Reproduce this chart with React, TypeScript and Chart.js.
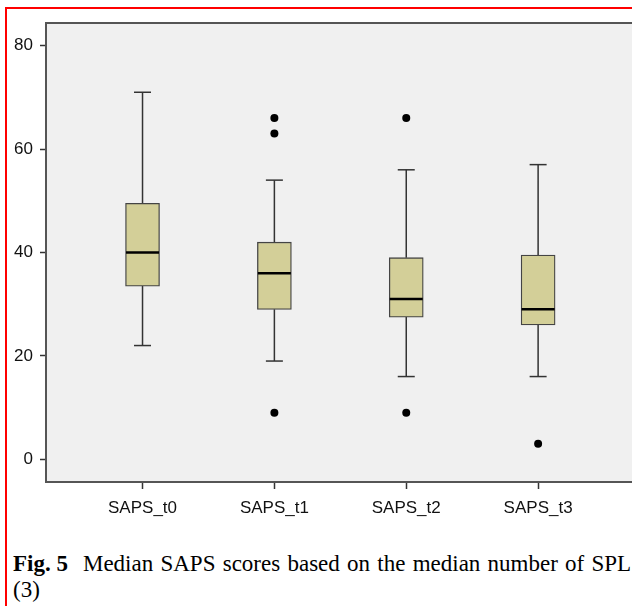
import React, { useEffect, useRef } from "react";
import { Chart, registerables } from "chart.js";

Chart.register(...registerables);

const CATEGORIES = ["SAPS_t0", "SAPS_t1", "SAPS_t2", "SAPS_t3"];
const WHISKER_LOW = [22, 19, 16, 16];
const Q1 = [33.5, 29, 27.5, 26];
const MEDIAN = [40, 36, 31, 29];
const Q3 = [49.5, 42, 39, 39.5];
const WHISKER_HIGH = [71, 54, 56, 57];
const OUTLIERS: number[][] = [[], [66, 63, 9], [66, 9], [3]];
const Y_TICKS = [0, 20, 40, 60, 80];
const Y_MIN = -4.4;
const Y_MAX = 84.4;
const X_MIN = 0.268;
const X_MAX = 4.712;

const bgPlugin = {
  id: "plotBg",
  beforeDraw(chart: any) {
    const { ctx, chartArea } = chart;
    const { left, top, right, bottom } = chartArea;
    ctx.save();
    ctx.fillStyle = "#f0f0f0";
    ctx.fillRect(left, top, right - left, bottom - top);
    ctx.strokeStyle = "#555";
    ctx.lineWidth = 2;
    ctx.beginPath();
    ctx.moveTo(left, top);
    ctx.lineTo(right, top);
    ctx.stroke();
    ctx.restore();
  },
};

export default function App() {
  const ref = useRef<HTMLCanvasElement>(null);

  useEffect(() => {
    if (!ref.current) return;
    const pos = CATEGORIES.map((_, i) => i + 1);
    const whiskerData: any[] = [];
    pos.forEach((x, i) => {
      whiskerData.push({ x, y: Q3[i] }, { x, y: WHISKER_HIGH[i] }, { x, y: null });
      whiskerData.push({ x, y: Q1[i] }, { x, y: WHISKER_LOW[i] }, { x, y: null });
    });
    const capData: any[] = [];
    pos.forEach((x, i) => {
      capData.push({ x, y: WHISKER_HIGH[i] }, { x, y: WHISKER_LOW[i] });
    });
    const outlierData: any[] = [];
    pos.forEach((x, i) => OUTLIERS[i].forEach((y) => outlierData.push({ x, y })));

    const chart = new Chart(ref.current, {
      type: "bar",
      data: {
        datasets: [
          {
            type: "line",
            data: whiskerData,
            borderColor: "#333",
            borderWidth: 1.5,
            pointRadius: 0,
            spanGaps: false,
            order: 5,
          } as any,
          {
            type: "bar",
            data: pos.map((x, i) => ({ x, y: [Q1[i], Q3[i]] })),
            backgroundColor: "#d3cf98",
            borderColor: "#444",
            borderWidth: 1.3,
            borderSkipped: false,
            barThickness: 34,
            order: 4,
          } as any,
          {
            type: "line",
            data: pos.map((x, i) => ({ x, y: MEDIAN[i] })),
            showLine: false,
            pointStyle: "line",
            pointRadius: 16.5,
            pointBorderWidth: 2.5,
            pointBorderColor: "#000",
            order: 3,
          } as any,
          {
            type: "line",
            data: capData,
            showLine: false,
            pointStyle: "line",
            pointRadius: 8.5,
            pointBorderWidth: 1.5,
            pointBorderColor: "#333",
            order: 2,
          } as any,
          {
            type: "line",
            data: outlierData,
            showLine: false,
            pointStyle: "circle",
            pointRadius: 4,
            pointBorderWidth: 0,
            pointBackgroundColor: "#000",
            order: 1,
          } as any,
        ],
      },
      options: {
        animation: false,
        responsive: false,
        layout: { autoPadding: false, padding: { top: 23, left: 0, right: 0, bottom: 0 } },
        plugins: { legend: { display: false }, tooltip: { enabled: false } },
        scales: {
          x: {
            type: "linear",
            min: X_MIN,
            max: X_MAX,
            offset: false,
            afterBuildTicks: (s: any) => {
              s.ticks = pos.map((v) => ({ value: v }));
            },
            afterFit: (s: any) => {
              s.height = 48;
              s.paddingLeft = 0;
              s.paddingRight = 0;
            },
            ticks: {
              callback: (v: any) => CATEGORIES[Math.round(Number(v)) - 1] ?? "",
              color: "#111",
              font: { family: "'Liberation Sans', Arial", size: 17 },
              padding: 9,
              maxRotation: 0,
              autoSkip: false,
            },
            grid: {
              display: true,
              drawOnChartArea: false,
              drawTicks: true,
              tickLength: 7,
              tickColor: "#333",
              tickWidth: 1.5,
              offset: false,
            },
            border: { display: true, color: "#555", width: 2 },
          } as any,
          y: {
            type: "linear",
            min: Y_MIN,
            max: Y_MAX,
            afterBuildTicks: (s: any) => {
              s.ticks = Y_TICKS.map((v) => ({ value: v }));
            },
            afterFit: (s: any) => {
              s.width = 46;
            },
            ticks: {
              color: "#111",
              font: { family: "'Liberation Sans', Arial", size: 17 },
              padding: 7,
            },
            grid: {
              display: true,
              drawOnChartArea: false,
              drawTicks: true,
              tickLength: 6,
              tickColor: "#333",
              tickWidth: 1.5,
            },
            border: { display: true, color: "#555", width: 2 },
          } as any,
        },
      },
      plugins: [bgPlugin],
    });
    return () => chart.destroy();
  }, []);

  return (
    <div
      style={{
        position: "absolute",
        left: 0,
        top: 0,
        width: 632,
        height: 606,
        overflow: "hidden",
        background: "#fff",
      }}
    >
      <div
        style={{
          position: "absolute",
          left: 5,
          top: 7,
          width: 700,
          height: 700,
          borderLeft: "2px solid #ff0000",
          borderTop: "2px solid #ff0000",
        }}
      />
      <canvas
        ref={ref}
        width={632}
        height={530}
        style={{ position: "absolute", left: 0, top: 0, width: 632, height: 530 }}
      />
      <div
        style={{
          position: "absolute",
          left: 13,
          top: 551,
          fontFamily: "'Liberation Serif', 'Times New Roman', serif",
          fontSize: 23,
          lineHeight: "26px",
          whiteSpace: "nowrap",
          wordSpacing: "1.5px",
          color: "#000",
        }}
      >
        <span style={{ fontWeight: "bold", wordSpacing: 0 }}>Fig. 5</span>
        <span style={{ marginLeft: 15 }}>Median SAPS scores based on the median number of SPL</span>
        <br />
        (3)
      </div>
    </div>
  );
}
